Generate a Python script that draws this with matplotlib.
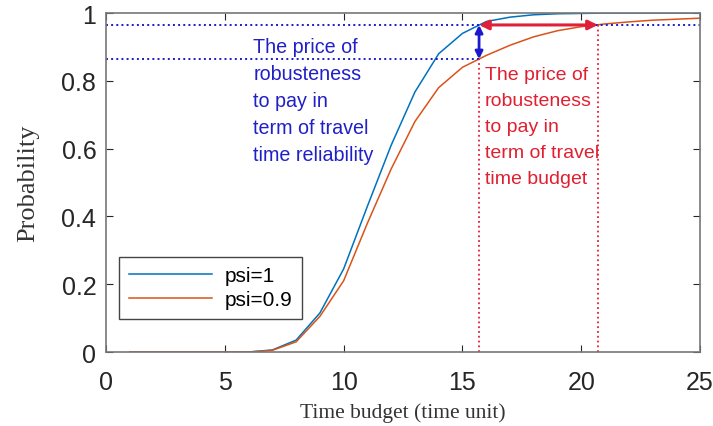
import numpy as np
import matplotlib.pyplot as plt

# time budget grid and cumulative probability for both psi values
time_budget = list(range(1, 26))
prob_psi1 = [0, 0, 0, 0, 0, 0.0, 0.006, 0.035, 0.115, 0.245, 0.43, 0.61, 0.767,
             0.88, 0.94, 0.975, 0.988, 0.995, 0.998, 0.999, 1.0, 1.0, 1.0, 1.0, 1.0]
prob_psi09 = [0, 0, 0, 0, 0, 0.0, 0.005, 0.03, 0.105, 0.21, 0.38, 0.54, 0.68,
              0.78, 0.84, 0.875, 0.905, 0.93, 0.948, 0.96, 0.968, 0.974, 0.979, 0.982, 0.985]
series_labels = ['psi=1', 'psi=0.9']

# annotation values
t_reliab = 15.7
t_budget = 20.7
p_high = 0.965
p_low = 0.864

blue_c = '#0072BD'
orange_c = '#D95319'

plt.rcParams['font.family'] = ['Liberation Sans', 'DejaVu Sans']

fig = plt.figure(figsize=(7.13, 4.27), dpi=100)
ax = fig.add_axes([0.1487, 0.1733, 0.8331, 0.7937])

ax.plot(time_budget, prob_psi1, color=blue_c, lw=1.1, label=series_labels[0])
ax.plot(time_budget, prob_psi09, color=orange_c, lw=1.1, label=series_labels[1])

# dotted guides
ax.plot([0, 25], [p_high, p_high], ls=':', color='#1a1acc', lw=1.4)
ax.plot([0, t_reliab], [p_low, p_low], ls=':', color='#1a1acc', lw=1.4)
ax.plot([t_reliab, t_reliab], [0, p_low], ls=':', color='#e0203a', lw=1.3)
ax.plot([t_budget, t_budget], [0, p_high], ls=':', color='#e0203a', lw=1.3)

# double arrows
ax.annotate('', xy=(t_reliab, p_high), xytext=(t_reliab, p_low),
            arrowprops=dict(arrowstyle='<|-|>', color='#1a1acc', lw=2,
                            mutation_scale=11, shrinkA=0, shrinkB=0))
ax.annotate('', xy=(t_reliab, p_high), xytext=(t_budget, p_high),
            arrowprops=dict(arrowstyle='<|-|>', color='#e0203a', lw=2.2,
                            mutation_scale=14, shrinkA=0, shrinkB=0))

ax.text(6.2, 0.93, 'The price of\nrobusteness\nto pay in\nterm of travel\ntime reliability',
        color='#2020c8', fontsize=14.2, va='top', ha='left', linespacing=1.53)
ax.text(15.95, 0.845, 'The price of\nrobusteness\nto pay in\nterm of travel\ntime budget',
        color='#e02030', fontsize=14, va='top', ha='left', linespacing=1.7)

ax.set_xlim(0, 25)
ax.set_ylim(0, 1)
ax.set_xticks([0, 5, 10, 15, 20, 25])
ax.set_yticks([0, 0.2, 0.4, 0.6, 0.8, 1])
ax.set_yticklabels(['0', '0.2', '0.4', '0.6', '0.8', '1'])
ax.tick_params(direction='in', top=True, right=True, labelsize=18,
               colors='#262626', length=5)
ax.tick_params(axis='x', pad=13)
ax.tick_params(axis='y', pad=7)
for s in ax.spines.values():
    s.set_color('#777777')
    s.set_linewidth(1.2)

ax.set_xlabel('Time budget (time unit)', family='Liberation Serif', fontsize=15.5,
              color='#333333', labelpad=6)
ax.set_ylabel('Probability', family='Liberation Serif', fontsize=19,
              color='#333333', labelpad=16)

leg = ax.legend(loc='lower left', bbox_to_anchor=(0.005, 0.068), fontsize=15,
                handlelength=4.0, fancybox=False, framealpha=1, borderpad=0.45,
                labelspacing=0.25, handletextpad=0.6)
leg.get_frame().set_edgecolor('#444444')
leg.get_frame().set_linewidth(1.0)

fig.savefig('out.png', dpi=100)
